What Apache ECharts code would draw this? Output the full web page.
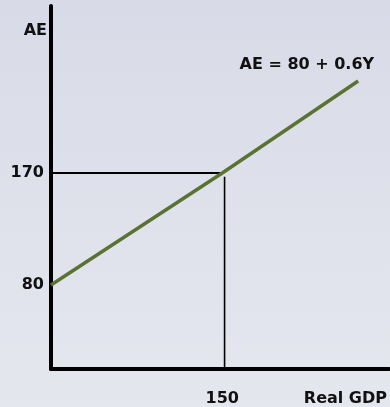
<!DOCTYPE html>
<html><head><meta charset="utf-8">
<script src="https://cdn.jsdelivr.net/npm/echarts@6/dist/echarts.min.js"></script>
<style>
html,body{margin:0;padding:0;}
body{background:linear-gradient(to bottom,#d8dbe7,#e5e7ef);}
#c{width:390px;height:407px;}
</style></head>
<body><div id="c"></div>
<script>
// Data
const xTicks = [150];
const yTicks = [80, 170];
const aeX = [0, 150, 269];
const aeY = [80, 170, 244];
const guideHX = [0, 150];
const guideHY = [170, 170];
const guideVX = [152, 152];
const guideVY = [167, 12.5];
const xName = 'Real GDP';
const yName = 'AE';
const eqText = 'AE = 80 + 0.6Y';

const FONT = 'DejaVu Sans';
const zip = (a, b) => a.map((v, i) => [v, b[i]]);

const chart = echarts.init(document.getElementById('c'), null, {renderer: 'canvas'});
chart.setOption({
  backgroundColor: 'transparent',
  animation: false,
  grid: {left: 51, right: 0, top: 6, bottom: 38, containLabel: false},
  xAxis: {
    type: 'value', min: 0, max: 296,
    axisLine: {show: true, onZero: false, lineStyle: {color: '#000', width: 4}},
    axisTick: {show: false},
    splitLine: {show: false},
    axisLabel: {
      customValues: xTicks, margin: 22,
      fontFamily: FONT, fontWeight: 'bold', fontSize: 16, color: '#111'
    },
    name: xName, nameLocation: 'end', nameGap: -2,
    nameTextStyle: {fontFamily: FONT, fontWeight: 'bold', fontSize: 16, color: '#111',
      align: 'right', verticalAlign: 'top', padding: [22, 0, 0, 0]}
  },
  yAxis: {
    type: 'value', min: 12.5, max: 304.3,
    axisLine: {show: true, onZero: false, lineStyle: {color: '#000', width: 4}},
    axisTick: {show: false},
    splitLine: {show: false},
    axisLabel: {
      customValues: yTicks, margin: 7,
      fontFamily: FONT, fontWeight: 'bold', fontSize: 16, color: '#111'
    },
    name: yName, nameLocation: 'end', nameGap: -25,
    nameTextStyle: {fontFamily: FONT, fontWeight: 'bold', fontSize: 16, color: '#111',
      align: 'right', verticalAlign: 'middle', padding: [0, 4, 0, 0]}
  },
  series: [
    {type: 'line', data: zip(guideHX, guideHY), symbol: 'none', silent: true,
      lineStyle: {color: '#000', width: 2}, z: 3},
    {type: 'line', data: zip(guideVX, guideVY), symbol: 'none', silent: true,
      lineStyle: {color: '#000', width: 1.6}, z: 3},
    {type: 'line', data: zip(aeX, aeY), symbol: 'none', silent: true,
      lineStyle: {color: '#5b7332', width: 3.5}, z: 4,
      endLabel: {show: true, formatter: eqText, position: 'top',
        fontFamily: FONT, fontWeight: 'bold', fontSize: 16, color: '#111',
        align: 'right', verticalAlign: 'middle', offset: [8, -16]}}
  ]
});
</script>
</body></html>
